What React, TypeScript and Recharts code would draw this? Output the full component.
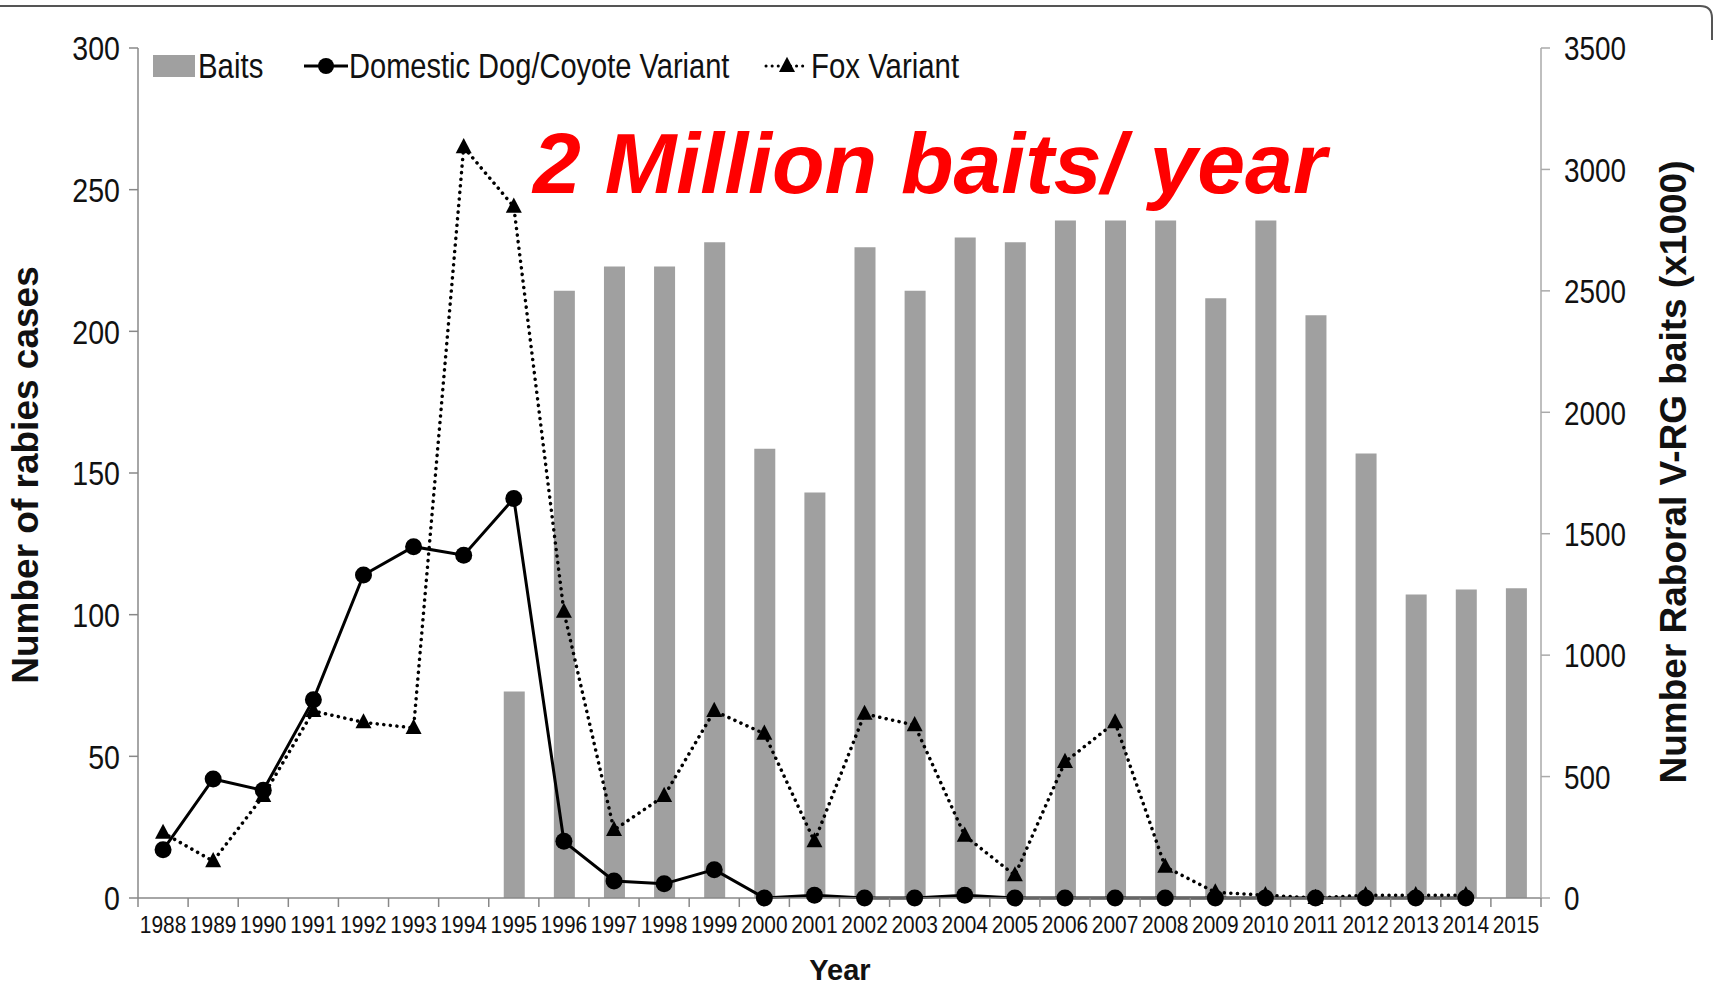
import React from "react"
import { ComposedChart, Bar, Line, XAxis, YAxis, Legend } from "recharts"

const years = [
  "1988", "1989", "1990", "1991", "1992", "1993", "1994", "1995", "1996", "1997",
  "1998", "1999", "2000", "2001", "2002", "2003", "2004", "2005", "2006", "2007",
  "2008", "2009", "2010", "2011", "2012", "2013", "2014", "2015",
]

// baits in thousands (right axis)
const baits = [
  null, null, null, null, null, null, null, 850, 2500, 2600,
  2600, 2700, 1850, 1670, 2680, 2500, 2720, 2700, 2790, 2790,
  2790, 2470, 2790, 2400, 1830, 1250, 1270, 1275,
]

const dogCoyote = [
  17, 42, 38, 70, 114, 124, 121, 141, 20, 6,
  5, 10, 0, 1, 0, 0, 1, 0, 0, 0,
  0, 0, 0, 0, 0, 0, 0, null,
]

const fox = [
  23, 13, 36, 66, 62, 60, 265, 244, 101, 24,
  36, 66, 58, 20, 65, 61, 22, 8, 48, 62,
  11, 2, 1, 0, 1, 1, 1, null,
]

const leftTicks = [0, 50, 100, 150, 200, 250, 300]
const rightTicks = [0, 500, 1000, 1500, 2000, 2500, 3000, 3500]

const data = years.map((year, i) => ({
  year,
  baits: baits[i],
  dog: dogCoyote[i],
  fox: fox[i],
}))

// no Arial Narrow available, so squeeze Liberation Sans horizontally
const SANS = "'Liberation Sans', Arial, sans-serif"

const W = 1714
const H = 988
const margin = { top: 48, right: 73, bottom: 30, left: 38 }
const plotW = W - margin.left - margin.right - 200
const half = plotW / years.length / 2

const Narrow = ({ x, y, size, sx = 0.84, anchor = "start", weight = "normal", dy = 0, children }: any) => (
  <text
    transform={`translate(${x},${y}) scale(${sx},1)`}
    textAnchor={anchor}
    dy={dy}
    fontFamily={SANS}
    fontSize={size}
    fontWeight={weight}
    fill="#111"
  >
    {children}
  </text>
)

const XTick = (props: any) => {
  const { x, y, payload, index } = props
  const last = index === years.length - 1
  return (
    <g>
      <line x1={x - half} x2={x - half} y1={y} y2={y + 9} stroke="#888" strokeWidth={1.5} />
      {last && <line x1={x + half} x2={x + half} y1={y} y2={y + 9} stroke="#888" strokeWidth={1.5} />}
      <Narrow x={x} y={y + 35} size={24} sx={0.87} anchor="middle">
        {payload.value}
      </Narrow>
    </g>
  )
}

const LeftTick = (props: any) => (
  <Narrow x={props.x} y={props.y} size={34} sx={0.84} anchor="end" dy="0.36em">
    {props.payload.value}
  </Narrow>
)

const RightTick = (props: any) => (
  <Narrow x={props.x} y={props.y} size={34} sx={0.82} anchor="start" dy="0.36em">
    {props.payload.value}
  </Narrow>
)

const Triangle = (props: any) => {
  const { cx, cy, r = 8 } = props
  if (cx == null || cy == null || props.value == null) return null
  return (
    <polygon
      points={`${cx},${cy - r * 1.15} ${cx - r},${cy + r * 0.75} ${cx + r},${cy + r * 0.75}`}
      fill="#000"
    />
  )
}

const LegendBox = () => (
  <svg width={820} height={44} style={{ display: "block" }}>
    <rect x={0} y={11} width={42} height={22} fill="#a0a0a0" />
    <Narrow x={45} y={34} size={35} sx={0.84}>Baits</Narrow>
    <line x1={151} x2={195} y1={22} y2={22} stroke="#000" strokeWidth={3} />
    <circle cx={173} cy={22} r={8} fill="#000" />
    <Narrow x={196} y={34} size={35} sx={0.83}>Domestic Dog/Coyote Variant</Narrow>
    <line x1={613} x2={655} y1={22} y2={22} stroke="#000" strokeWidth={3} strokeDasharray="0.1 6" strokeLinecap="round" />
    <Triangle cx={634} cy={22} r={8} value={1} />
    <Narrow x={658} y={34} size={35} sx={0.84}>Fox Variant</Narrow>
  </svg>
)

export default function App() {
  return (
    <div style={{ position: "absolute", left: 0, top: 0, width: W, height: H, background: "#fff" }}>
      <ComposedChart width={W} height={H} data={data} margin={margin}>
        <XAxis
          dataKey="year"
          interval={0}
          tickLine={false}
          tickSize={0}
          tickMargin={0}
          axisLine={{ stroke: "#888", strokeWidth: 1.5 }}
          tick={<XTick />}
          height={60}
        />
        <YAxis
          yAxisId="left"
          domain={[0, 300]}
          ticks={leftTicks}
          width={100}
          axisLine={{ stroke: "#888", strokeWidth: 1.5 }}
          tickLine={{ stroke: "#888", strokeWidth: 1.5 }}
          tickSize={9}
          tickMargin={9}
          tick={<LeftTick />}
        />
        <YAxis
          yAxisId="right"
          orientation="right"
          domain={[0, 3500]}
          ticks={rightTicks}
          width={100}
          axisLine={{ stroke: "#aaa", strokeWidth: 1.5 }}
          tickLine={{ stroke: "#aaa", strokeWidth: 1.5 }}
          tickSize={9}
          tickMargin={14}
          tick={<RightTick />}
        />
        <Legend
          verticalAlign="middle"
          align="center"
          content={<LegendBox />}
          wrapperStyle={{ top: 44, left: 153, width: 820, height: 44 }}
        />
        <Bar yAxisId="right" dataKey="baits" fill="#a0a0a0" barSize={21} isAnimationActive={false} />
        <Line
          yAxisId="left"
          dataKey="fox"
          stroke="#000"
          strokeWidth={3.5}
          strokeDasharray="0.1 6.5"
          strokeLinecap="round"
          dot={<Triangle r={8} />}
          activeDot={false}
          isAnimationActive={false}
        />
        <Line
          yAxisId="left"
          dataKey="dog"
          stroke="#000"
          strokeWidth={3}
          dot={{ r: 8.5, fill: "#000", stroke: "#000", strokeWidth: 0 }}
          activeDot={false}
          isAnimationActive={false}
        />
      </ComposedChart>
      <svg width={W} height={H} style={{ position: "absolute", left: 0, top: 0, pointerEvents: "none" }}>
        <path d="M0 6 H1700 Q1712 6 1712 18 V40" fill="none" stroke="#555" strokeWidth={2} />
        <text x={533} y={193} fontFamily={SANS} fontWeight="bold" fontStyle="italic" fontSize={86} fill="#ff0000">
          2 Million baits/ year
        </text>
        <text transform="translate(38, 475) rotate(-90)" textAnchor="middle" fontFamily={SANS} fontWeight="bold" fontSize={37} fill="#111">
          Number of rabies cases
        </text>
        <text transform="translate(1686, 472) rotate(-90)" textAnchor="middle" fontFamily={SANS} fontWeight="bold" fontSize={37} fill="#111">
          Number Raboral V-RG baits (x1000)
        </text>
        <text x={840} y={980} textAnchor="middle" fontFamily={SANS} fontWeight="bold" fontSize={29} fill="#111">
          Year
        </text>
      </svg>
    </div>
  )
}
